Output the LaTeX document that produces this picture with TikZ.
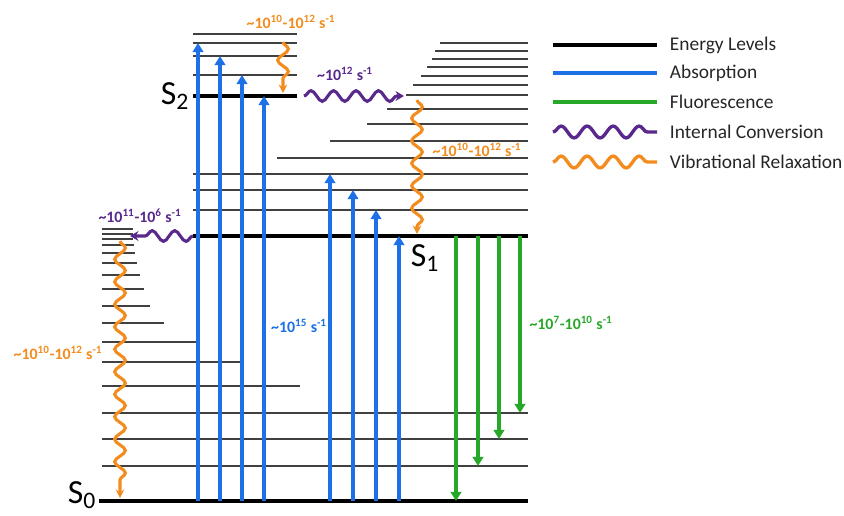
\documentclass[tikz,border=0pt]{standalone}
\usepackage{fontspec}
\setmainfont{Carlito}
\usetikzlibrary{arrows.meta,decorations.pathmorphing}

\definecolor{absblue}{RGB}{30,112,230}
\definecolor{flugreen}{RGB}{40,168,40}
\definecolor{icpurple}{RGB}{88,40,140}
\definecolor{vrorange}{RGB}{242,140,30}

\tikzset{
  vlevel/.style={black!75, line width=1.4pt},
  slevel/.style={black, line width=2.8pt},
  absarrow/.style={absblue, line width=2.6pt, -{Triangle[width=7.5pt,length=6.5pt]}},
  fluarrow/.style={flugreen, line width=2.6pt, -{Triangle[width=7.5pt,length=6.5pt]}},
  wave/.style={line width=2.2pt, decorate,
    decoration={snake, amplitude=3.8pt, segment length=16pt, post length=5pt}},
  vrwave/.style={wave, vrorange, -{Stealth[length=6pt,width=6pt]}},
  icwave/.style={wave, icpurple, -{Stealth[length=6pt,width=7pt]}},
  rate/.style={font=\bfseries\fontsize{11.3}{13}\selectfont},
  slabel/.style={font=\fontsize{24}{28}\selectfont},
  legtext/.style={font=\fontsize{13.8}{16}\selectfont, text=black!85, anchor=west},
  legelev/.style={black, line width=2.8pt},
  legabs/.style={absblue, line width=2.8pt},
  legflu/.style={flugreen, line width=2.8pt},
  legic/.style={icpurple, line width=2.4pt, decorate,
    decoration={snake, amplitude=4.2pt, segment length=18.5pt}},
  legvr/.style={vrorange, line width=2.4pt, decorate,
    decoration={snake, amplitude=4.2pt, segment length=18.5pt}}
}

\begin{document}
\begin{tikzpicture}[x=0.025cm, y=-0.025cm]
\path[use as bounding box] (0,0) rectangle (844,515);

% vibrational levels of S0
\foreach \y/\xe in {229/133,234/133,239/133,245/134,253/135,263/137,275/140,289/144,
  306/150,323/164,342/197,362/240,386/300,413/528,439/528,466/528}
  \draw[vlevel] (102,\y) -- (\xe,\y);
% vibrational levels of S1
\foreach \y/\xs in {43/440,51/435,59/432,67/427,76/421,85/413,95/406,109/387,
  124/367,141/330,158/277,174/193,190/193,210/193}
  \draw[vlevel] (\xs,\y) -- (528,\y);
% vibrational levels of S2
\foreach \y in {34,43,56,75}
  \draw[vlevel] (193,\y) -- (297,\y);

% electronic states
\draw[slevel] (99,501) -- (528,501);
\draw[slevel] (193,236) -- (528,236);
\draw[slevel] (193,96) -- (297,96);
\node[slabel] (s0) at (82,495) {S\textsubscript{0}};
\node[slabel] (s1) at (425,258) {S\textsubscript{1}};
\node[slabel] (s2) at (175,96) {S\textsubscript{2}};

% absorption
\foreach \x/\yt in {198/43,220/56,242/75,264/96,330/174,353/190,376/210,399/236}
  \draw[absarrow] (\x,501) -- (\x,\yt);
% fluorescence
\foreach \x/\yb in {456/501,478/466,499/439,520/413}
  \draw[fluarrow] (\x,236) -- (\x,\yb);

% vibrational relaxation
\draw[vrwave] (283,42) -- (283,93);
\draw[vrwave] (417,100) -- (417,234);
\draw[vrwave] (120,241) -- (120,498);
% internal conversion
\draw[icwave] (304,96) -- (404,96);
\draw[icwave] (193,236) -- (130,236);

% rates
\node[rate, text=vrorange] (ratevr2) at (291,22)
  {\textasciitilde10\textsuperscript{10}-10\textsuperscript{12} s\textsuperscript{-1}};
\node[rate, text=icpurple] (rateic21) at (345,74)
  {\textasciitilde10\textsuperscript{12} s\textsuperscript{-1}};
\node[rate, text=vrorange] (ratevr1) at (477,150)
  {\textasciitilde10\textsuperscript{10}-10\textsuperscript{12} s\textsuperscript{-1}};
\node[rate, text=icpurple] (rateic10) at (140,216)
  {\textasciitilde10\textsuperscript{11}-10\textsuperscript{6} s\textsuperscript{-1}};
\node[rate, text=vrorange] (ratevr0) at (58,353)
  {\textasciitilde10\textsuperscript{10}-10\textsuperscript{12} s\textsuperscript{-1}};
\node[rate, text=absblue] (rateabs) at (299,326)
  {\textasciitilde10\textsuperscript{15} s\textsuperscript{-1}};
\node[rate, text=flugreen] (rateflu) at (571,323)
  {\textasciitilde10\textsuperscript{7}-10\textsuperscript{10} s\textsuperscript{-1}};

% legend
\foreach \y/\sty/\txt in {45/legelev/Energy Levels, 73/legabs/Absorption,
  102/legflu/Fluorescence, 132/legic/Internal Conversion,
  162/legvr/Vibrational Relaxation}{
  \draw[\sty] (553,\y) -- (657,\y);
  \node[legtext] (leg\y) at (665,\y) {\txt};
}
\end{tikzpicture}
\end{document}
